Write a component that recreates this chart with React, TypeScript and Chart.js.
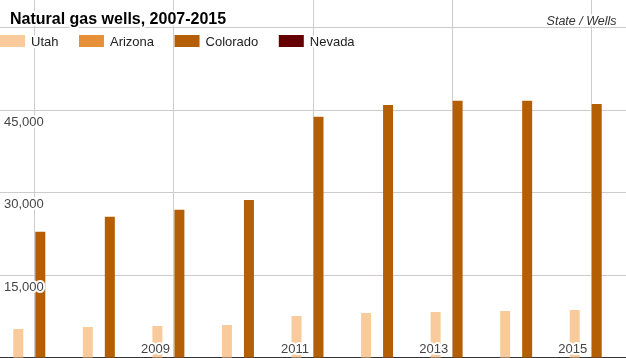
import React, { useEffect, useRef } from "react";
import { Chart, registerables } from "chart.js";

Chart.register(...registerables);

const TITLE = "Natural gas wells, 2007-2015";
const UNIT_LABEL = "State / Wells";
const YEARS = ["2007", "2008", "2009", "2010", "2011", "2012", "2013", "2014", "2015"];
const X_LABELED = ["2009", "2011", "2013", "2015"];
const Y_GRID = [0, 15000, 30000, 45000, 60000];
const Y_LABELED = [15000, 30000, 45000];

const UTAH = [5270, 5630, 5810, 5990, 7630, 8170, 8350, 8530, 8720];
const ARIZONA = [0, 0, 0, 0, 0, 0, 0, 0, 0];
const COLORADO = [22930, 25660, 26930, 28690, 43810, 45940, 46720, 46720, 46120];
const NEVADA = [0, 0, 0, 0, 0, 0, 0, 0, 0];

const FONT = '"Liberation Sans", Arial, sans-serif';

const overlayPlugin = {
  id: "overlay",
  afterDraw(chart: any) {
    const ctx = chart.ctx as CanvasRenderingContext2D;
    const xs = chart.scales.x;
    const ys = chart.scales.y;
    ctx.save();
    const halo = (text: string, px: number, py: number, font: string, color: string, align: CanvasTextAlign) => {
      ctx.font = font;
      ctx.textAlign = align;
      ctx.textBaseline = "alphabetic";
      ctx.lineJoin = "round";
      ctx.strokeStyle = "#ffffff";
      ctx.lineWidth = 4;
      ctx.strokeText(text, px, py);
      ctx.fillStyle = color;
      ctx.fillText(text, px, py);
    };
    Y_LABELED.forEach((v) => {
      const py = ys.getPixelForValue(v);
      halo(v.toLocaleString("en-US"), 4, py + 15.5, `13px ${FONT}`, "#444444", "left");
    });
    X_LABELED.forEach((yr) => {
      const px = xs.getPixelForValue(YEARS.indexOf(yr));
      halo(yr, px - 4, 353, `13px ${FONT}`, "#444444", "right");
    });
    halo(TITLE, 10, 24, `bold 16px ${FONT}`, "#000000", "left");
    halo(UNIT_LABEL, 616.5, 24.5, `italic 12.5px ${FONT}`, "#333333", "right");
    let lx = 0;
    chart.data.datasets.forEach((ds: any) => {
      ctx.fillStyle = ds.backgroundColor;
      ctx.fillRect(lx, 35, 25, 12);
      ctx.font = `13px ${FONT}`;
      const w = ctx.measureText(ds.label).width;
      halo(ds.label, lx + 31, 45.5, `13px ${FONT}`, "#222222", "left");
      lx += 31 + w + 20.5;
    });
    ctx.restore();
  },
};

export default function App() {
  const ref = useRef<HTMLCanvasElement | null>(null);
  useEffect(() => {
    document.body.style.margin = "0";
    if (!ref.current) return;
    const chart = new Chart(ref.current, {
      type: "bar",
      data: {
        labels: YEARS,
        datasets: [
          { label: "Utah", data: UTAH, backgroundColor: "#f9cb9c" },
          { label: "Arizona", data: ARIZONA, backgroundColor: "#e69138" },
          { label: "Colorado", data: COLORADO, backgroundColor: "#b45f06" },
          { label: "Nevada", data: NEVADA, backgroundColor: "#660000" },
        ],
      },
      options: {
        responsive: false,
        animation: false,
        layout: { padding: 0 },
        datasets: { bar: { categoryPercentage: 0.6326, barPercentage: 0.909 } },
        plugins: {
          legend: { display: false },
          title: { display: false },
          tooltip: { enabled: false },
        },
        scales: {
          x: {
            grid: {
              offset: false,
              drawTicks: false,
              color: (c: any) => (c.index % 2 === 0 ? "#cccccc" : "rgba(0,0,0,0)"),
              lineWidth: 1,
            },
            ticks: { display: false },
            border: { display: true, color: "#333333", width: 2 },
          },
          y: {
            min: 0,
            max: 65000,
            grid: { drawTicks: false, color: "#cccccc", lineWidth: 1 },
            ticks: { display: false },
            border: { display: false },
            afterBuildTicks: (scale: any) => {
              scale.ticks = Y_GRID.map((v) => ({ value: v }));
            },
          },
        },
      },
      plugins: [overlayPlugin],
    } as any);
    return () => chart.destroy();
  }, []);
  return <canvas ref={ref} width={626} height={358} style={{ display: "block" }} />;
}
